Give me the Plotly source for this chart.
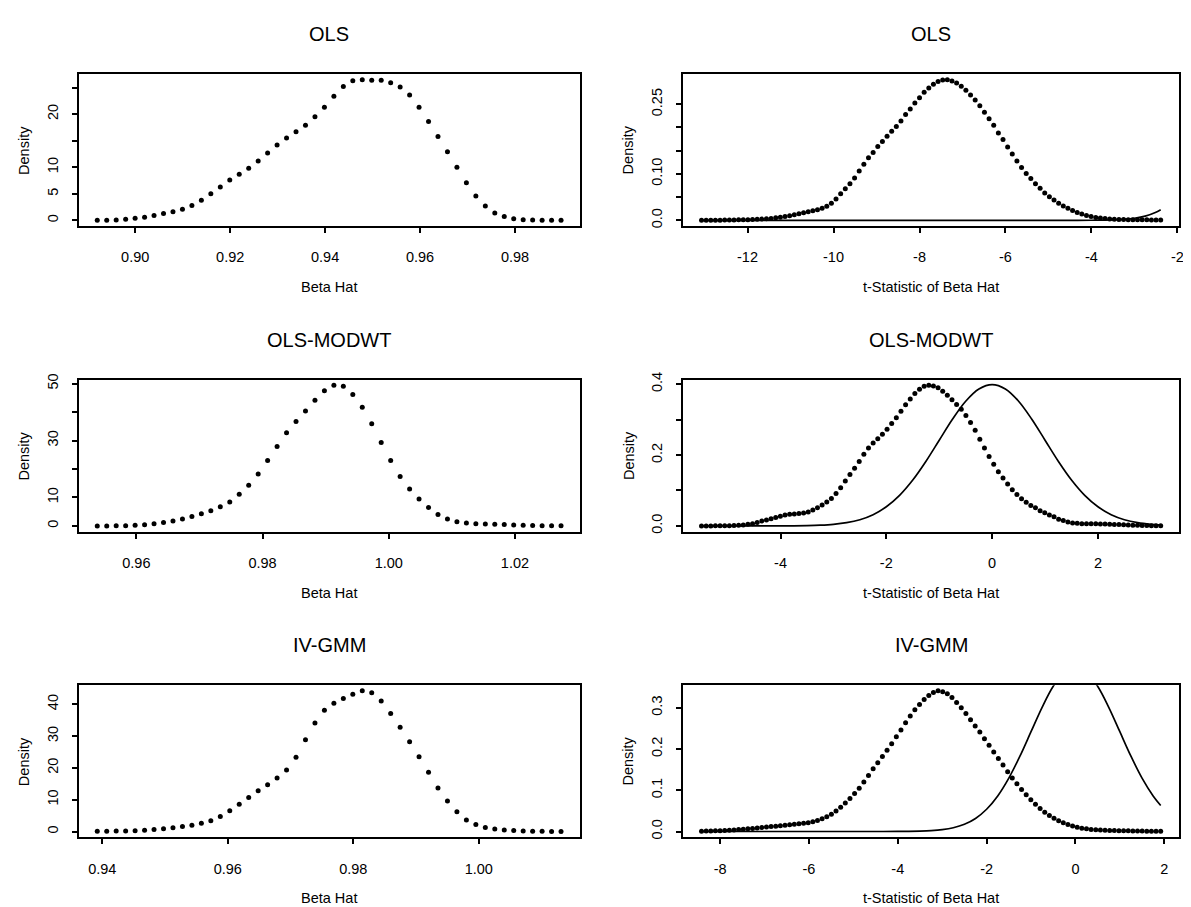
import numpy as np
import plotly.graph_objects as go

W, H = 1191, 907

# ---------------- data ----------------
# Left column: density of Beta Hat (50 evaluation points each)
ols_beta_range = (0.892, 0.9897)
ols_beta_density = [0.0, 0.02, 0.05, 0.2, 0.4, 0.6, 0.9, 1.3, 1.6, 2.1,
                    2.8, 3.8, 5.0, 6.3, 7.6, 8.7, 9.8, 11.2, 12.7, 14.2,
                    15.5, 16.7, 17.9, 19.5, 21.3, 23.4, 25.2, 26.3, 26.5, 26.4,
                    26.4, 25.9, 25.1, 23.6, 21.3, 18.6, 15.8, 12.9, 10.0, 7.1,
                    4.6, 2.7, 1.4, 0.7, 0.3, 0.1, 0.06, 0.03, 0.01, 0.0]

modwt_beta_range = (0.9538, 1.0273)
modwt_beta_density = [0.0, 0.0, 0.02, 0.05, 0.2, 0.4, 0.8, 1.2, 1.7, 2.4,
                      3.3, 4.3, 5.3, 6.7, 8.4, 11.1, 14.3, 18.2, 23.0, 27.9,
                      32.7, 36.7, 40.4, 44.1, 47.5, 49.4, 49.1, 46.2, 41.7, 35.9,
                      29.3, 23.0, 17.4, 13.0, 9.5, 6.5, 4.0, 2.4, 1.5, 1.0,
                      0.8, 0.7, 0.6, 0.5, 0.35, 0.25, 0.15, 0.1, 0.05, 0.02]

gmm_beta_range = (0.9392, 1.0131)
gmm_beta_density = [0.08, 0.1, 0.13, 0.18, 0.27, 0.4, 0.6, 0.85, 1.2, 1.6,
                    2.0, 2.6, 3.4, 4.7, 6.5, 8.6, 10.7, 12.8, 14.7, 16.8,
                    19.3, 23.3, 28.8, 34.1, 38.1, 40.3, 41.8, 43.1, 44.2, 43.6,
                    41.0, 37.1, 32.8, 28.2, 23.5, 18.6, 13.7, 9.6, 6.2, 3.6,
                    2.2, 1.3, 0.8, 0.5, 0.3, 0.2, 0.1, 0.05, 0.03, 0.01]

# Right column: density of the t-statistic (100 evaluation points each)
ols_t_range = (-13.07, -2.39)
ols_t_density = [0.0000, 0.0001, 0.0002, 0.0003, 0.0004, 0.0005, 0.0006, 0.0008, 0.0010, 0.0012,
                 0.0014, 0.0017, 0.0021, 0.0026, 0.0033, 0.0042, 0.0055, 0.0068, 0.0082, 0.0100,
                 0.0120, 0.0142, 0.0163, 0.0183, 0.0205, 0.0230, 0.0262, 0.0305, 0.0370, 0.0460,
                 0.0570, 0.0680, 0.0790, 0.0910, 0.1060, 0.1210, 0.1350, 0.1460, 0.1590, 0.1700,
                 0.1810, 0.1920, 0.2020, 0.2140, 0.2280, 0.2400, 0.2530, 0.2640, 0.2760, 0.2850,
                 0.2930, 0.2990, 0.3025, 0.3030, 0.3000, 0.2960, 0.2890, 0.2800, 0.2700, 0.2590,
                 0.2470, 0.2330, 0.2190, 0.2050, 0.1880, 0.1740, 0.1580, 0.1430, 0.1280, 0.1140,
                 0.1010, 0.0900, 0.0790, 0.0690, 0.0590, 0.0510, 0.0440, 0.0370, 0.0310, 0.0260,
                 0.0210, 0.0170, 0.0135, 0.0105, 0.0080, 0.0062, 0.0048, 0.0038, 0.0030, 0.0024,
                 0.0020, 0.0017, 0.0015, 0.0013, 0.0012, 0.0011, 0.0010, 0.0009, 0.0008, 0.0007]

modwt_t_range = (-5.493, 3.186)
modwt_t_density = [0.0000, 0.0000, 0.0001, 0.0002, 0.0003, 0.0005, 0.0008, 0.0012, 0.0018, 0.0025,
                   0.0045, 0.0065, 0.0100, 0.0140, 0.0170, 0.0205, 0.0240, 0.0270, 0.0305, 0.0330,
                   0.0340, 0.0350, 0.0365, 0.0395, 0.0450, 0.0515, 0.0590, 0.0675, 0.0775, 0.0915,
                   0.1080, 0.1265, 0.1450, 0.1630, 0.1820, 0.2020, 0.2200, 0.2340, 0.2460, 0.2590,
                   0.2730, 0.2890, 0.3050, 0.3240, 0.3420, 0.3580, 0.3740, 0.3860, 0.3940, 0.3970,
                   0.3950, 0.3900, 0.3800, 0.3690, 0.3560, 0.3430, 0.3290, 0.3120, 0.2920, 0.2700,
                   0.2450, 0.2200, 0.1960, 0.1740, 0.1530, 0.1350, 0.1180, 0.1020, 0.0890, 0.0770,
                   0.0670, 0.0580, 0.0510, 0.0430, 0.0370, 0.0310, 0.0260, 0.0190, 0.0150, 0.0110,
                   0.0080, 0.0074, 0.0065, 0.0063, 0.0062, 0.0060, 0.0056, 0.0052, 0.0048, 0.0042,
                   0.0037, 0.0032, 0.0027, 0.0022, 0.0017, 0.0013, 0.0010, 0.0008, 0.0006, 0.0004]

gmm_t_range = (-8.42, 1.92)
gmm_t_density = [0.0008, 0.0010, 0.0013, 0.0016, 0.0020, 0.0025, 0.0031, 0.0038, 0.0046, 0.0055,
                 0.0065, 0.0075, 0.0086, 0.0097, 0.0108, 0.0119, 0.0130, 0.0141, 0.0152, 0.0164,
                 0.0176, 0.0188, 0.0200, 0.0214, 0.0235, 0.0265, 0.0310, 0.0360, 0.0420, 0.0500,
                 0.0590, 0.0690, 0.0800, 0.0920, 0.1050, 0.1200, 0.1360, 0.1520, 0.1670, 0.1820,
                 0.1970, 0.2130, 0.2300, 0.2460, 0.2640, 0.2800, 0.2950, 0.3080, 0.3200, 0.3300,
                 0.3370, 0.3410, 0.3390, 0.3340, 0.3250, 0.3130, 0.3000, 0.2860, 0.2710, 0.2560,
                 0.2410, 0.2250, 0.2090, 0.1930, 0.1770, 0.1610, 0.1450, 0.1300, 0.1160, 0.1020,
                 0.0890, 0.0770, 0.0660, 0.0560, 0.0470, 0.0390, 0.0320, 0.0260, 0.0210, 0.0170,
                 0.0135, 0.0105, 0.0082, 0.0065, 0.0052, 0.0043, 0.0036, 0.0031, 0.0027, 0.0024,
                 0.0021, 0.0019, 0.0017, 0.0015, 0.0013, 0.0011, 0.0009, 0.0007, 0.0005, 0.0004]

# Standard normal reference curve (solid line)
normal_ols_x = [-13.07, -6.0, -5.0, -4.5, -4.0, -3.75, -3.5, -3.25, -3.0, -2.75, -2.5, -2.39]
normal_ols_y = [0.0, 0.0, 0.0000015, 0.000016, 0.000134, 0.000353, 0.000873, 0.002029,
                0.004432, 0.009094, 0.017528, 0.022909]

normal_modwt_x = [-5.49, -5.0, -4.5, -4.0, -3.75, -3.5, -3.25, -3.0, -2.75, -2.5, -2.25, -2.0,
                  -1.75, -1.5, -1.25, -1.0, -0.75, -0.5, -0.25, 0.0, 0.25, 0.5, 0.75, 1.0,
                  1.25, 1.5, 1.75, 2.0, 2.25, 2.5, 2.75, 3.0, 3.19]
normal_modwt_y = [0.0000002, 0.0000015, 0.000016, 0.000134, 0.000353, 0.000873, 0.002029,
                  0.004432, 0.009094, 0.017528, 0.031740, 0.053991, 0.086277, 0.129518,
                  0.182649, 0.241971, 0.301137, 0.352065, 0.386668, 0.398942, 0.386668,
                  0.352065, 0.301137, 0.241971, 0.182649, 0.129518, 0.086277, 0.053991,
                  0.031740, 0.017528, 0.009094, 0.004432, 0.002462]

normal_gmm_x = [-8.42, -6.0, -5.0, -4.5, -4.0, -3.75, -3.5, -3.25, -3.0, -2.75, -2.5, -2.25,
                -2.0, -1.75, -1.5, -1.25, -1.0, -0.75, -0.5, -0.25, 0.0, 0.25, 0.5, 0.75,
                1.0, 1.25, 1.5, 1.75, 1.92]
normal_gmm_y = [0.0, 0.0, 0.0000015, 0.000016, 0.000134, 0.000353, 0.000873, 0.002029,
                0.004432, 0.009094, 0.017528, 0.031740, 0.053991, 0.086277, 0.129518,
                0.182649, 0.241971, 0.301137, 0.352065, 0.386668, 0.398942, 0.386668,
                0.352065, 0.301137, 0.241971, 0.182649, 0.129518, 0.086277, 0.063160]

# tick labels
ols_beta_xticks = [0.90, 0.92, 0.94, 0.96, 0.98]
ols_beta_xlabels = ["0.90", "0.92", "0.94", "0.96", "0.98"]
ols_beta_yticks = [0, 5, 10, 15, 20, 25]
ols_beta_ylabels = ["0", "5", "10", "", "20", ""]

modwt_beta_xticks = [0.96, 0.98, 1.00, 1.02]
modwt_beta_xlabels = ["0.96", "0.98", "1.00", "1.02"]
modwt_beta_yticks = [0, 10, 20, 30, 40, 50]
modwt_beta_ylabels = ["0", "10", "", "30", "", "50"]

gmm_beta_xticks = [0.94, 0.96, 0.98, 1.00]
gmm_beta_xlabels = ["0.94", "0.96", "0.98", "1.00"]
gmm_beta_yticks = [0, 10, 20, 30, 40]
gmm_beta_ylabels = ["0", "10", "20", "30", "40"]

ols_t_xticks = [-12, -10, -8, -6, -4, -2]
ols_t_xlabels = ["-12", "-10", "-8", "-6", "-4", "-2"]
ols_t_yticks = [0, 0.05, 0.10, 0.15, 0.20, 0.25]
ols_t_ylabels = ["0.0", "", "0.10", "", "", "0.25"]

modwt_t_xticks = [-4, -2, 0, 2]
modwt_t_xlabels = ["-4", "-2", "0", "2"]
modwt_t_yticks = [0, 0.1, 0.2, 0.3, 0.4]
modwt_t_ylabels = ["0.0", "", "0.2", "", "0.4"]

gmm_t_xticks = [-8, -6, -4, -2, 0, 2]
gmm_t_xlabels = ["-8", "-6", "-4", "-2", "0", "2"]
gmm_t_yticks = [0, 0.1, 0.2, 0.3]
gmm_t_ylabels = ["0.0", "0.1", "0.2", "0.3"]

titles = ["OLS", "OLS", "OLS-MODWT", "OLS-MODWT", "IV-GMM", "IV-GMM"]
xlabels = ["Beta Hat", "t-Statistic of Beta Hat"]

# ---------------- layout (pixels) ----------------
col_x = [(71, 574), (678, 1176)]
ROW_STEP = 309.0
row_y = [(58.7 + r * ROW_STEP, 212.3 + r * ROW_STEP) for r in range(3)]

FONT = "Liberation Sans, Arial, Helvetica, sans-serif"
TICK_SIZE = 14.5
LAB_SIZE = 14.5
TITLE_SIZE = 20

panels = [
    dict(rng=ols_beta_range, y=ols_beta_density, norm=None,
         xt=ols_beta_xticks, xl=ols_beta_xlabels, yt=ols_beta_yticks, yl=ols_beta_ylabels),
    dict(rng=ols_t_range, y=ols_t_density, norm=(normal_ols_x, normal_ols_y),
         xt=ols_t_xticks, xl=ols_t_xlabels, yt=ols_t_yticks, yl=ols_t_ylabels),
    dict(rng=modwt_beta_range, y=modwt_beta_density, norm=None,
         xt=modwt_beta_xticks, xl=modwt_beta_xlabels, yt=modwt_beta_yticks, yl=modwt_beta_ylabels),
    dict(rng=modwt_t_range, y=modwt_t_density, norm=(normal_modwt_x, normal_modwt_y),
         xt=modwt_t_xticks, xl=modwt_t_xlabels, yt=modwt_t_yticks, yl=modwt_t_ylabels),
    dict(rng=gmm_beta_range, y=gmm_beta_density, norm=None,
         xt=gmm_beta_xticks, xl=gmm_beta_xlabels, yt=gmm_beta_yticks, yl=gmm_beta_ylabels),
    dict(rng=gmm_t_range, y=gmm_t_density, norm=(normal_gmm_x, normal_gmm_y),
         xt=gmm_t_xticks, xl=gmm_t_xlabels, yt=gmm_t_yticks, yl=gmm_t_ylabels),
]

fig = go.Figure()
annotations = []
layout_axes = {}

for k, p in enumerate(panels):
    r, c = divmod(k, 2)
    x0, x1 = col_x[c]
    y0, y1 = row_y[r]
    idx = "" if k == 0 else str(k + 1)
    xa, ya = "x" + idx, "y" + idx

    n = len(p["y"])
    xs = np.linspace(p["rng"][0], p["rng"][1], n)
    ys = np.array(p["y"])

    # R-style 4% range expansion
    xr = p["rng"][1] - p["rng"][0]
    xrange = [p["rng"][0] - 0.04 * xr, p["rng"][1] + 0.04 * xr]
    ymax = ys.max()
    yrange = [-0.04 * ymax, ymax * 1.04]

    if p["norm"] is not None:
        fig.add_trace(go.Scatter(x=p["norm"][0], y=p["norm"][1], mode="lines",
                                 line=dict(color="black", width=1.7, shape="spline"),
                                 xaxis=xa, yaxis=ya, showlegend=False, hoverinfo="skip"))
    fig.add_trace(go.Scatter(x=xs, y=ys, mode="markers",
                             marker=dict(color="black", size=5.0, line=dict(width=0)),
                             xaxis=xa, yaxis=ya, showlegend=False, hoverinfo="skip"))

    common = dict(showline=True, mirror=True, linecolor="black", linewidth=2,
                  ticks="outside", ticklen=5, tickwidth=1.5, tickcolor="black",
                  showgrid=False, zeroline=False, fixedrange=True,
                  tickfont=dict(family=FONT, size=TICK_SIZE, color="black"))
    layout_axes["xaxis" + idx] = dict(common, domain=[x0 / W, x1 / W], range=xrange,
                                      anchor=ya, tickmode="array", tickvals=p["xt"],
                                      ticktext=p["xl"], ticklabelstandoff=12)
    layout_axes["yaxis" + idx] = dict(common, domain=[1 - y1 / H, 1 - y0 / H], range=yrange,
                                      anchor=xa, tickmode="array", tickvals=p["yt"],
                                      ticktext=p["yl"], tickangle=-90, ticklabelstandoff=8)

    cx = (x0 + x1) / 2
    annotations.append(dict(text=titles[k], x=cx / W, y=1 - (y0 - 40.5) / H, xref="paper",
                            yref="paper", showarrow=False, xanchor="center", yanchor="middle",
                            font=dict(family=FONT, size=TITLE_SIZE, color="black")))
    annotations.append(dict(text=xlabels[c], x=cx / W, y=1 - (y1 + 62) / H, xref="paper",
                            yref="paper", showarrow=False, xanchor="center", yanchor="middle",
                            font=dict(family=FONT, size=LAB_SIZE, color="black")))
    annotations.append(dict(text="Density", x=(x0 - 55) / W, y=1 - ((y0 + y1) / 2) / H,
                            xref="paper", yref="paper", showarrow=False, textangle=-90,
                            xanchor="center", yanchor="middle",
                            font=dict(family=FONT, size=LAB_SIZE, color="black")))

fig.update_layout(width=W, height=H, margin=dict(l=0, r=0, t=0, b=0),
                  paper_bgcolor="white", plot_bgcolor="white",
                  annotations=annotations, showlegend=False, **layout_axes)

fig.write_html("out.html", config={"displayModeBar": False})
